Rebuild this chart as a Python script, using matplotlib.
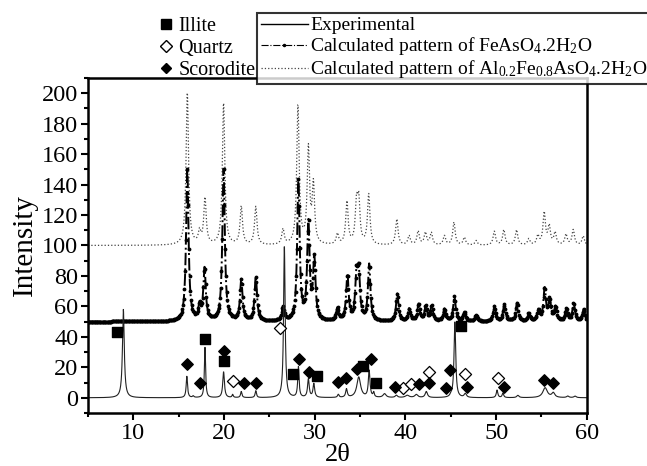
import matplotlib
matplotlib.use("Agg")
import matplotlib.pyplot as plt
from matplotlib.lines import Line2D
import numpy as np

plt.rcParams['font.family'] = ['Liberation Serif', 'DejaVu Serif']
plt.rcParams['mathtext.default'] = 'regular'

# measured pattern: peak positions (2θ), heights, half widths
exp_pos = [8.9, 15.9, 16.6, 17.9, 19.95, 20.95, 21.9, 23.5, 26.65, 28.2, 29.3, 29.9,
           32.6, 33.5, 34.85, 36.0, 36.5, 37.7, 39.0, 40.2, 41.2, 42.3, 45.0, 45.45,
           46.6, 50.1, 50.75, 52.4, 55.4, 56.3, 57.9, 58.7]
exp_h = [58, 14, 1, 33, 17, 2, 4, 4.5, 100, 20, 12, 9,
         2, 5.5, 13.5, 17.5, 3, 2.5, 1.5, 1.5, 2, 4, 1, 50,
         2.5, 5, 3, 1.5, 6.5, 3, 1, 1]
exp_w = [0.12, 0.09, 0.1, 0.08, 0.11, 0.08, 0.09, 0.09, 0.1, 0.09, 0.11, 0.11,
         0.1, 0.11, 0.25, 0.11, 0.08, 0.2, 0.15, 0.25, 0.2, 0.15, 0.1, 0.11,
         0.15, 0.1, 0.1, 0.15, 0.3, 0.2, 0.15, 0.15]

# calculated FeAsO4.2H2O (offset 50)
fe_pos = [15.95, 17.3, 17.85, 19.95, 21.9, 23.5, 26.5, 28.2, 29.3, 29.95, 32.5, 33.6,
          34.6, 34.85, 36.0, 39.1, 40.4, 41.45, 42.25, 42.9, 44.3, 45.4, 46.5, 47.8,
          49.8, 50.9, 52.3, 53.6, 54.65, 55.35, 55.9, 56.55, 57.75, 58.55, 59.65]
fe_h = [100, 9, 34, 100, 27, 29, 9, 92, 63, 40, 8, 30,
        27, 29, 37, 18, 8, 11, 10, 10, 8, 16, 6, 4,
        10, 11, 12, 5, 7, 21, 14, 9, 8, 12, 8]
fe_offset = 50

# calculated Al0.2Fe0.8AsO4.2H2O (offset 100)
al_pos = [15.95, 17.3, 17.9, 19.95, 21.9, 23.5, 26.5, 28.15, 29.3, 29.85, 32.5, 33.55,
          34.6, 34.85, 35.95, 39.05, 40.4, 41.4, 42.2, 42.85, 44.3, 45.35, 46.5, 47.8,
          49.8, 50.85, 52.25, 53.6, 54.6, 55.3, 55.85, 56.5, 57.7, 58.5, 59.6]
al_h = [100, 8, 30, 93, 25, 25, 10, 91, 62, 38, 7, 28,
        25, 27, 33, 17, 6, 9, 8, 8, 6, 15, 5, 3,
        9, 10, 10, 4, 6, 21, 12, 8, 7, 10, 6]
al_offset = 100
calc_w = 0.16

# phase markers
illite_x = [8.2, 17.9, 19.95, 27.6, 30.2, 35.3, 36.8, 46.1]
illite_y = [43, 38.5, 24, 15.5, 14.5, 21, 9.5, 47]
quartz_x = [20.95, 26.2, 39.7, 40.6, 42.6, 46.6, 50.2]
quartz_y = [11, 45.5, 6.6, 8.8, 17, 15.4, 12.7]
scor_x = [15.9, 17.4, 20.0, 22.2, 23.5, 28.3, 29.4, 32.6, 33.5, 34.65, 36.2,
          38.8, 41.5, 42.6, 44.5, 44.9, 46.8, 50.85, 55.3, 56.3]
scor_y = [22.4, 9.9, 30.8, 9.9, 9.9, 25.7, 17.1, 10.3, 12.7, 19.1, 25.7,
          7.3, 8.8, 9.5, 6.6, 18.2, 7.3, 7.3, 11.4, 9.5]


def profile(x, pos, heights, widths):
    y = np.zeros_like(x)
    for p, h, w in zip(pos, heights, widths):
        y += h / (1 + ((x - p) / w) ** 2)
    return y


x = np.arange(5, 60.001, 0.02)
y_exp = profile(x, exp_pos, exp_h, exp_w)
y_fe = fe_offset + profile(x, fe_pos, fe_h, [calc_w] * len(fe_pos))
y_al = al_offset + profile(x, al_pos, al_h, [calc_w] * len(al_pos))

fig = plt.figure(figsize=(6.47, 4.66), dpi=100)
ax = fig.add_axes([0.136, 0.1137, 0.771, 0.719])

ax.plot(x, y_al, color='#444444', linestyle=':', linewidth=0.9)
ax.plot(x, y_fe, color='black', linestyle='-.', linewidth=1.4,
        marker='.', markersize=3.5, markevery=4)
ax.plot(x, y_exp, color='#222222', linewidth=0.8)

ax.scatter(illite_x, illite_y, marker='s', s=48, color='black', zorder=5)
ax.scatter(quartz_x, quartz_y, marker='D', s=38, facecolor='white',
           edgecolor='black', linewidth=0.9, zorder=5)
ax.scatter(scor_x, scor_y, marker='D', s=34, color='black', zorder=5)

ax.set_xlim(5, 60)
ax.set_ylim(-10, 210)
ax.set_xticks(range(10, 61, 10))
ax.set_xticks(range(5, 61, 5), minor=True)
ax.set_yticks(range(0, 201, 20))
ax.set_yticks(range(-10, 211, 10), minor=True)
ax.tick_params(which='both', direction='out', width=1.5, labelsize=17.5, pad=2)
ax.tick_params(which='major', length=5)
ax.tick_params(which='minor', length=3)
for s in ax.spines.values():
    s.set_linewidth(1.8)

ax.set_xlabel('2θ', fontsize=19, labelpad=0)
ax.set_ylabel('Intensity', fontsize=21, labelpad=3)

phase_handles = [
    Line2D([], [], marker='s', color='black', linestyle='none', markersize=6.5),
    Line2D([], [], marker='D', markerfacecolor='white', markeredgecolor='black',
           linestyle='none', markersize=6),
    Line2D([], [], marker='D', color='black', linestyle='none', markersize=5.5),
]
fig.legend(phase_handles, ['Illite', 'Quartz', 'Scorodite'], loc='upper left',
           bbox_to_anchor=(158 / 647, 1 - 15 / 466), frameon=False, fontsize=14.5,
           handlelength=0.6, handletextpad=0.3, labelspacing=0.15, borderpad=0.1,
           borderaxespad=0)

line_handles = [
    Line2D([], [], color='black', linewidth=1.0),
    Line2D([], [], color='black', linestyle='-.', linewidth=0.8,
           marker='.', markersize=3, markevery=[1]),
    Line2D([], [], color='#444444', linestyle=':', linewidth=0.9),
]
line_labels = ['Experimental',
               'Calculated pattern of FeAsO$_4$.2H$_2$O',
               'Calculated pattern of Al$_{0.2}$Fe$_{0.8}$AsO$_4$.2H$_2$O']
leg = fig.legend(line_handles, line_labels, loc='upper left',
                 bbox_to_anchor=(257 / 647, 1 - 13 / 466), fontsize=14,
                 frameon=True, fancybox=False, edgecolor='black',
                 handlelength=2.4, handletextpad=0.15, labelspacing=0.05,
                 borderpad=0.2, borderaxespad=0)
leg.get_frame().set_linewidth(1.5)
leg.set_zorder(10)

fig.savefig('out.png', dpi=100)
